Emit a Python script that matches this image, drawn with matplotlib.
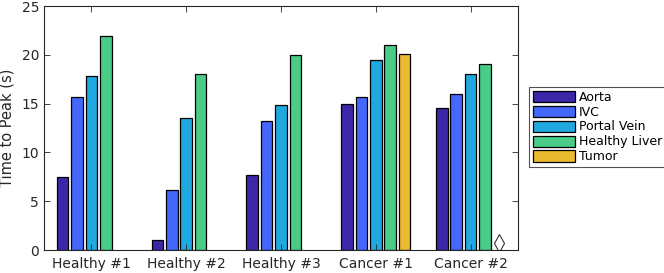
import matplotlib.pyplot as plt
import numpy as np

groups = ["Healthy #1", "Healthy #2", "Healthy #3", "Cancer #1", "Cancer #2"]
series = ["Aorta", "IVC", "Portal Vein", "Healthy Liver", "Tumor"]
aorta = [7.5, 1.05, 7.7, 15.0, 14.6]
ivc = [15.7, 6.1, 13.2, 15.7, 16.0]
portal_vein = [17.8, 13.5, 14.9, 19.5, 18.0]
healthy_liver = [21.9, 18.0, 20.0, 21.0, 19.1]
tumor = [np.nan, np.nan, np.nan, 20.05, np.nan]
missing_marker_y = 0.7  # marker for missing tumor value in Cancer #2

colors = ["#3e26a8", "#4468fb", "#1fa9e0", "#48cc87", "#eaba30"]
txt = "#262626"

fig = plt.figure(figsize=(6.64, 2.73), dpi=100)
ax = fig.add_axes([44/664, 23/273, 474/664, 244/273])

x = np.arange(1, len(groups) + 1)
step = 0.152
width = 0.124
data = [aorta, ivc, portal_vein, healthy_liver, tumor]
for i, (vals, name) in enumerate(zip(data, series)):
    ax.bar(x + (i - 2) * step, vals, width, color=colors[i],
           edgecolor="black", linewidth=0.9, label=name)

ax.plot([5 + 2 * step], [missing_marker_y], marker="d", markersize=9,
        markerfacecolor="white", markeredgecolor="#333333", markeredgewidth=0.8)

ax.set_xlim(0.5, 5.5)
ax.set_ylim(0, 25)
ax.set_xticks(x)
ax.set_xticklabels(groups)
ax.set_yticks([0, 5, 10, 15, 20, 25])
ax.tick_params(direction="in", top=True, right=True, labelsize=10,
               colors=txt, length=4, width=0.6)
ax.tick_params(axis="x", pad=5)
for s in ax.spines.values():
    s.set_linewidth(0.8)
    s.set_color(txt)
ax.set_ylabel("Time to Peak (s)", fontsize=10.5, color=txt, labelpad=5)

leg = fig.legend(loc="upper left", bbox_to_anchor=(529/664, 1 - 87/273),
                 fontsize=9, frameon=True, fancybox=False, edgecolor=txt,
                 handlelength=3.4, handleheight=1.0, handletextpad=0.3,
                 labelspacing=0.15, borderpad=0.3, borderaxespad=0)
leg.get_frame().set_linewidth(0.8)

fig.savefig("out.png", dpi=100)
